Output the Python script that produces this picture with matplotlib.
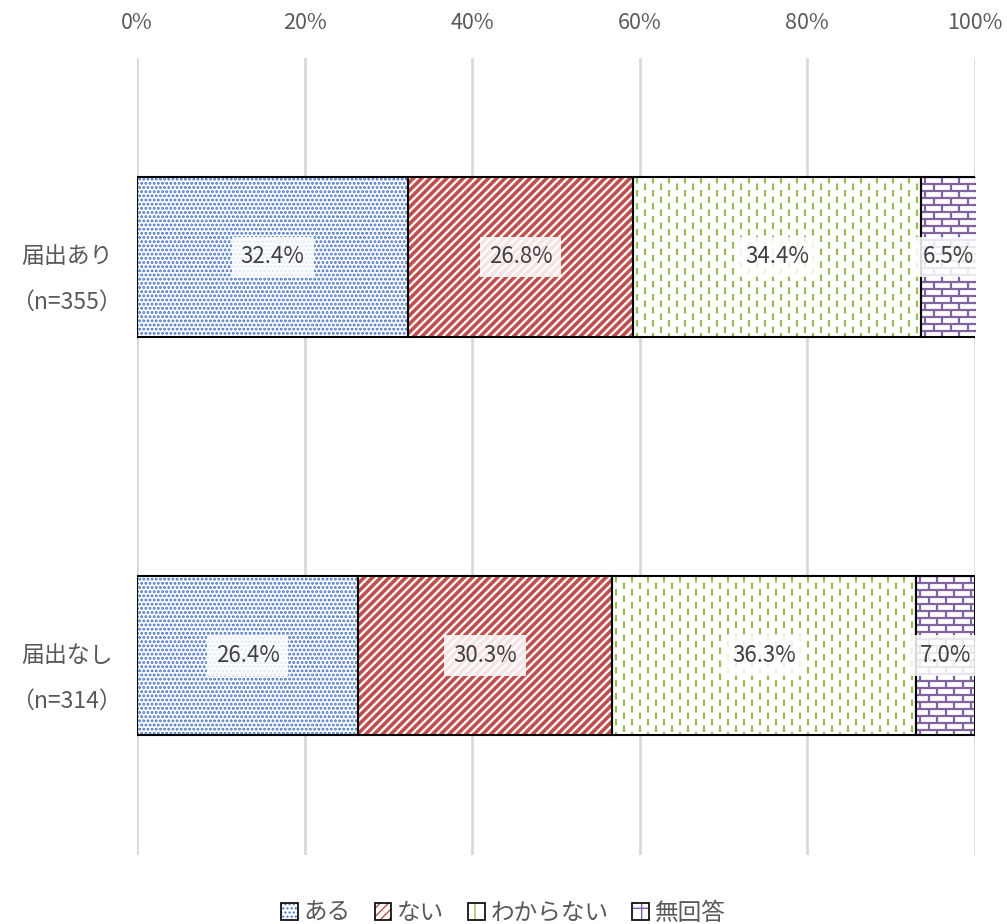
import matplotlib.pyplot as plt
import numpy as np
from matplotlib.patches import Patch

plt.rcParams['font.family'] = ['Noto Sans CJK JP', 'DejaVu Sans']
plt.rcParams['hatch.linewidth'] = 1.0
plt.rcParams['lines.scale_dashes'] = False

groups = ['届出あり', '届出なし']
group_n = ['（n=355）', '（n=314）']
series = ['ある', 'ない', 'わからない', '無回答']
aru = [32.4, 26.4]
nai = [26.8, 30.3]
wakaranai = [34.4, 36.3]
mukaitou = [6.5, 7.0]
values = [aru, nai, wakaranai, mukaitou]

colors = ['#4472C4', '#C0504D', '#9BBB59', '#8064A2']
hatches = ['....', '////', None, None]
hatch_lw = [1.4, 2.6, 1.0, 1.0]

W, H = 1007, 924
ax_rect = [0.136, 0.075, 0.832, 0.8626]
bar_h = 0.4

fig = plt.figure(figsize=(W / 100, H / 100), dpi=100)
ax = fig.add_axes(ax_rect)
ax.set_xlim(0, 100)
ax.set_ylim(1.5, -0.5)

# data units per pixel, used for the fill patterns
ux = 100 / (ax_rect[2] * W)
uy = 2 / (ax_rect[3] * H)


def dashed_columns(patch, x0, x1, yc, color, step_px, dash_px, lw):
    # vertical dashes, alternate columns shifted by one dash
    xs = np.arange(x0 + step_px * ux / 2, x1, step_px * ux)
    d = dash_px * 0.72
    for i, xv in enumerate(xs):
        off = 0 if i % 2 == 0 else d
        ln = ax.vlines(xv, yc - bar_h / 2, yc + bar_h / 2, color=color, lw=lw,
                       linestyle=(off, (d, d)), zorder=2.5)
        ln.set_clip_path(patch)


def brick_rows(patch, x0, x1, yc, color, row_px, lw):
    ys = np.arange(yc - bar_h / 2, yc + bar_h / 2, row_px * uy)
    ln = ax.hlines(ys, x0, x1, color=color, lw=lw, zorder=2.5)
    ln.set_clip_path(patch)


y = np.arange(len(groups))
left = np.zeros(len(groups))
for k, (vals, c, h) in enumerate(zip(values, colors, hatches)):
    bars = ax.barh(y, vals, left=left, height=bar_h, color='white', edgecolor=c,
                   hatch=h, linewidth=0, zorder=2)
    for b, yi, v, l in zip(bars, y, vals, left):
        if hasattr(b, 'set_hatch_linewidth'):
            b.set_hatch_linewidth(hatch_lw[k])
        if k == 2:
            dashed_columns(b, l, l + v, yi, c, 8, 6.5, 1.6)
        if k == 3:
            brick_rows(b, l, l + v, yi, c, 7, 1.6)
            dashed_columns(b, l, l + v, yi, c, 8.5, 7, 1.6)
    ax.barh(y, vals, left=left, height=bar_h, fill=False, edgecolor='black',
            linewidth=1.5, zorder=3)
    for yi, v, l in zip(y, vals, left):
        ax.text(l + v / 2, yi, f'{v:.1f}%', ha='center', va='center',
                fontsize=16, color='#404040', zorder=4,
                bbox=dict(boxstyle='square,pad=0.4', fc='white', ec='none', alpha=0.85))
    left = left + np.array(vals)

ax.xaxis.tick_top()
ax.set_xticks(np.arange(0, 101, 20))
ax.set_xticklabels([f'{t}%' for t in range(0, 101, 20)], fontsize=15.5, color='#595959')
ax.set_yticks(y)
ax.set_yticklabels([])
ax.tick_params(length=0)
ax.tick_params(axis='x', pad=17)
ax.grid(axis='x', color='#D9D9D9', linewidth=2, zorder=0)
for s in ax.spines.values():
    s.set_visible(False)

ytr = ax.get_yaxis_transform()
for yi, g, n in zip(y, groups, group_n):
    ax.text(-0.084, yi, g, transform=ytr, ha='center', va='center',
            fontsize=16.5, color='#595959')
    ax.text(-0.084, yi + 0.115, n, transform=ytr, ha='center', va='center',
            fontsize=16.5, color='#595959')

legend_hatch = ['....', '////', '|', '+']
handles = []
for c, h, lw in zip(colors, legend_hatch, hatch_lw):
    inner = Patch(facecolor='white', edgecolor=c, hatch=h, linewidth=0)
    if hasattr(inner, 'set_hatch_linewidth'):
        inner.set_hatch_linewidth(lw)
    outer = Patch(facecolor='none', edgecolor='black', linewidth=1.2)
    handles.append((inner, outer))
leg = fig.legend(handles, series, loc='lower center', ncol=4, frameon=False,
                 bbox_to_anchor=(0.5, -0.024), fontsize=17, handlelength=0.7,
                 handleheight=0.7, handletextpad=0.25, columnspacing=1.0,
                 labelcolor='#595959')

fig.savefig('out.png', dpi=100)
